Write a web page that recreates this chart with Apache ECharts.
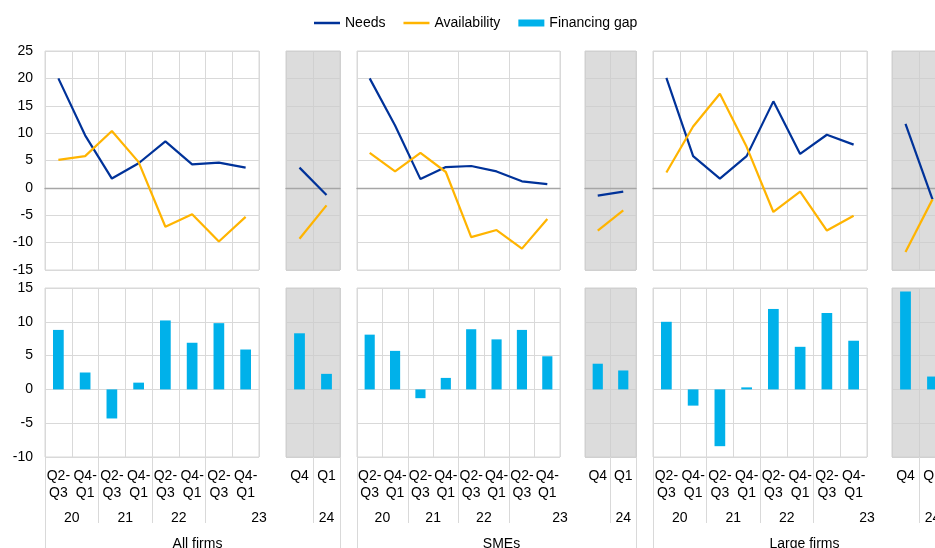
<!DOCTYPE html>
<html><head><meta charset="utf-8">
<script src="https://cdn.jsdelivr.net/npm/echarts@6/dist/echarts.min.js"></script>
<style>html,body{margin:0;padding:0;background:#fff;overflow:hidden}#c{width:935px;height:548px}</style>
</head><body><div id="c"></div><script>
// ---------- data ----------
const periodCats = ['Q2-\nQ3','Q4-\nQ1','Q2-\nQ3','Q4-\nQ1','Q2-\nQ3','Q4-\nQ1','Q2-\nQ3','Q4-\nQ1'];
const recentCats = ['Q4','Q1'];
const periodYears = ['20','21','22','23'];
const recentYears = ['24'];
const groupNames = ['All firms','SMEs','Large firms'];
const seriesNames = ['Needs','Availability','Financing gap'];

const allNeeds = [20.0, 9.6, 1.7, 4.5, 8.5, 4.3, 4.6, 3.7];
const allNeedsRecent = [3.7, -1.3];
const allAvail = [5.1, 5.8, 10.4, 4.7, -7.1, -4.8, -9.8, -5.3];
const allAvailRecent = [-9.3, -3.2];
const allGap = [8.8, 2.5, -4.3, 1.0, 10.2, 6.9, 9.8, 5.9];
const allGapRecent = [8.3, 2.3];

const smeNeeds = [20.0, 11.4, 1.6, 3.8, 4.0, 3.0, 1.2, 0.7];
const smeNeedsRecent = [-1.4, -0.7];
const smeAvail = [6.4, 3.0, 6.4, 2.9, -9.0, -7.7, -11.1, -5.7];
const smeAvailRecent = [-7.8, -4.1];
const smeGap = [8.1, 5.7, -1.3, 1.7, 8.9, 7.4, 8.8, 4.9];
const smeGapRecent = [3.8, 2.8];

const largeNeeds = [20.1, 5.8, 1.7, 5.8, 15.8, 6.2, 9.7, 7.9];
const largeNeedsRecent = [11.7, -2.1];
const largeAvail = [2.8, 11.2, 17.2, 7.5, -4.4, -0.7, -7.8, -5.1];
const largeAvailRecent = [-11.7, -2.1];
const largeGap = [10.0, -2.4, -8.4, 0.3, 11.9, 6.3, 11.3, 7.2];
const largeGapRecent = [14.5, 1.9];

const groupData = [
  {needs: allNeeds, needsR: allNeedsRecent, avail: allAvail, availR: allAvailRecent, gap: allGap, gapR: allGapRecent},
  {needs: smeNeeds, needsR: smeNeedsRecent, avail: smeAvail, availR: smeAvailRecent, gap: smeGap, gapR: smeGapRecent},
  {needs: largeNeeds, needsR: largeNeedsRecent, avail: largeAvail, availR: largeAvailRecent, gap: largeGap, gapR: largeGapRecent}
];

// ---------- layout / style ----------
const FONT = '"Liberation Sans", Arial, sans-serif';
const TXT = '#000000';
const C_NEEDS = '#003299', C_AVAIL = '#ffb400', C_GAP = '#00b1ea';
const GRIDC = '#d9d9d9', SHADE = '#dcdcdc', SHADE_LINE = '#d0d0d0';
const cols = [
  {left:45, width:214, recent:false},
  {left:286, width:54, recent:true},
  {left:357, width:203, recent:false},
  {left:585, width:51, recent:true},
  {left:653, width:214, recent:false},
  {left:892, width:54, recent:true}
];
const TOP = {top:51, height:219}, BOT = {top:288, height:169};

const grid = [], xAxis = [], yAxis = [], series = [], axes = [];

cols.forEach((c, ci) => {
  const lc = c.recent ? SHADE_LINE : GRIDC;
  const gbase = {left:c.left, width:c.width, show:true, containLabel:false, outerBoundsMode:'none',
    backgroundColor: c.recent ? SHADE : 'transparent', borderColor: lc, borderWidth:1};
  const gt = grid.length; grid.push(Object.assign({}, gbase, TOP));
  const gb = grid.length; grid.push(Object.assign({}, gbase, BOT));
  const cats = c.recent ? recentCats : periodCats;
  const n = cats.length;
  const a = {};
  a.xTop = xAxis.length;
  xAxis.push({type:'category', gridIndex:gt, data:cats, boundaryGap:true,
    axisLabel:{show:false}, axisTick:{show:false},
    axisLine:{show:true, onZero:true, lineStyle:{color:'#a6a6a6', width:1.4}},
    splitLine:{show:true, lineStyle:{color:lc, width:1}}});
  a.xBot = xAxis.length;
  xAxis.push({type:'category', gridIndex:gb, data:cats, boundaryGap:true, position:'bottom',
    axisLabel:{show:true, interval:0, color:TXT, fontFamily:FONT, fontSize:14, lineHeight:17, margin:11, align:'center'},
    axisTick:{show:false}, axisLine:{show:false, onZero:false},
    splitLine:{show:true, lineStyle:{color:lc, width:1}}});
  // year labels & separators
  const years = c.recent ? recentYears : periodYears;
  let labelPos, tickPos, sepPos;
  if (c.recent) { labelPos = [1.5]; tickPos = [1]; sepPos = [2]; }
  else {
    labelPos = years.map((y, i) => i === years.length - 1 ? n : 2*i + 1);
    tickPos = years.slice(1).map((y, i) => 2*(i+1));
    sepPos = [0];
  }
  const labelMap = {}; labelPos.forEach((p, i) => labelMap[p] = years[i]);
  a.xYear = xAxis.length;
  xAxis.push({type:'value', gridIndex:gb, position:'bottom', min:0, max:n,
    axisLine:{show:false, onZero:false}, splitLine:{show:false},
    axisTick:{show:true, customValues:tickPos, length:66, lineStyle:{color:GRIDC, width:1}},
    axisLabel:{show:true, customValues:labelPos, formatter:(v) => labelMap[v] || '', color:TXT, fontFamily:FONT, fontSize:14, margin:54, hideOverlap:false, showMinLabel:true, showMaxLabel:true}});
  a.xSep = xAxis.length;
  xAxis.push({type:'value', gridIndex:gb, position:'bottom', min:0, max:n,
    axisLine:{show:false, onZero:false}, splitLine:{show:false},
    axisTick:{show:true, customValues:sepPos, length:91, lineStyle:{color:GRIDC, width:1}},
    axisLabel:{show:false}});
  a.yTop = yAxis.length;
  yAxis.push({type:'value', gridIndex:gt, min:-15, max:25, interval:5,
    axisLine:{show:false}, axisTick:{show:false},
    splitLine:{show:true, lineStyle:{color:lc, width:1}},
    axisLabel:{show:ci === 0, color:TXT, fontFamily:FONT, fontSize:14, margin:12}});
  a.yBot = yAxis.length;
  yAxis.push({type:'value', gridIndex:gb, min:-10, max:15, interval:5,
    axisLine:{show:false}, axisTick:{show:false},
    splitLine:{show:true, lineStyle:{color:lc, width:1}},
    axisLabel:{show:ci === 0, color:TXT, fontFamily:FONT, fontSize:14, margin:12}});
  axes.push(a);
});

function lineSeries(name, color, ax, data) {
  return {name, type:'line', xAxisIndex:ax.xTop, yAxisIndex:ax.yTop, data,
    symbol:'none', lineStyle:{color, width:2.2}, itemStyle:{color}, z:5, animation:false};
}
function barSeries(name, color, ax, data) {
  return {name, type:'bar', xAxisIndex:ax.xBot, yAxisIndex:ax.yBot, data,
    barWidth:'40%', itemStyle:{color}, z:5, animation:false};
}

groupData.forEach((d, g) => {
  const m = axes[2*g], r = axes[2*g+1];
  series.push(lineSeries(seriesNames[0], C_NEEDS, m, d.needs));
  series.push(lineSeries(seriesNames[0], C_NEEDS, r, d.needsR));
  series.push(lineSeries(seriesNames[1], C_AVAIL, m, d.avail));
  series.push(lineSeries(seriesNames[1], C_AVAIL, r, d.availR));
  series.push(barSeries(seriesNames[2], C_GAP, m, d.gap));
  series.push(barSeries(seriesNames[2], C_GAP, r, d.gapR));
});

const title = groupNames.map((t, g) => {
  const m = cols[2*g], r = cols[2*g+1];
  return {text:t, left:(m.left + r.left + r.width)/2, top:532, textAlign:'center',
    textStyle:{color:TXT, fontFamily:FONT, fontSize:14, fontWeight:'normal'}};
});

const LINE_ICON = 'path://M0,0L52,0L52,5L0,5Z';
const chart = echarts.init(document.getElementById('c'), null, {renderer:'canvas'});
chart.setOption({
  animation:false,
  backgroundColor:'#ffffff',
  title,
  legend:{top:11, left:309, itemWidth:26, itemHeight:7, itemGap:18, symbolKeepAspect:true,
    data:[{name:'Needs', icon:LINE_ICON},{name:'Availability', icon:LINE_ICON},{name:'Financing gap', icon:'rect'}],
    textStyle:{color:TXT, fontFamily:FONT, fontSize:14}},
  grid, xAxis, yAxis, series
});
</script></body></html>
